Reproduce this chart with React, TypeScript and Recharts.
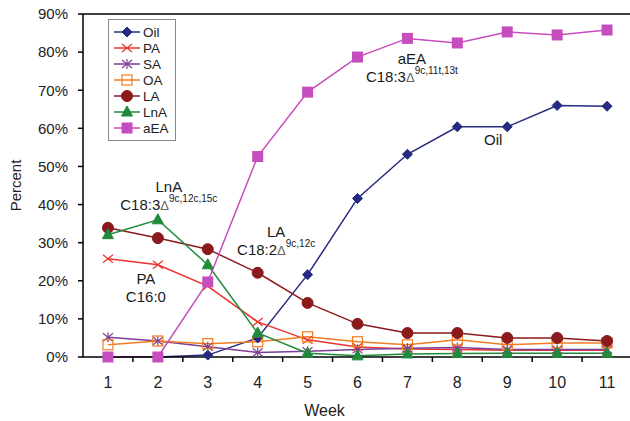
import React from "react";
import {
  LineChart,
  Line,
  XAxis,
  YAxis,
  Legend,
  Label,
  ReferenceLine,
  ReferenceDot,
} from "recharts";

const FONT = '"Liberation Sans", Arial, Helvetica, sans-serif';

// weeks on the x axis
const weeks = [1, 2, 3, 4, 5, 6, 7, 8, 9, 10, 11];
// percent values
const oil = [0, 0, 0.5, 5, 21.6, 41.6, 53.2, 60.4, 60.4, 66, 65.8];
const pa = [25.8, 24.2, 18.6, 9.2, 4.5, 2.6, 2.1, 2, 1.8, 1.8, 1.8];
const sa = [5.2, 4.2, 2.7, 1.2, 1.5, 2.0, 2.3, 2.5, 2.0, 2.0, 2.0];
const oa = [3.2, 4.2, 3.5, 4.0, 5.3, 4.0, 3.2, 4.5, 3.2, 3.7, 3.7];
const la = [33.9, 31.2, 28.3, 22.1, 14.2, 8.7, 6.3, 6.3, 5.0, 5.0, 4.2];
const lna = [32.1, 36, 24.2, 6.3, 1, 0.3, 0.8, 0.9, 1, 1, 1];
const aea = [0, 0, 19.7, 52.6, 69.5, 78.7, 83.6, 82.4, 85.3, 84.5, 85.8];

const yTicks = [0, 10, 20, 30, 40, 50, 60, 70, 80, 90];
const midTicks = weeks.map((w) => w + 0.5);

type Shape = "diamond" | "x" | "star" | "openSquare" | "circle" | "triangle" | "square";

const series: { key: string; name: string; values: number[]; color: string; shape: Shape }[] = [
  { key: "oil", name: "Oil", values: oil, color: "#262a80", shape: "diamond" },
  { key: "pa", name: "PA", values: pa, color: "#e8332e", shape: "x" },
  { key: "sa", name: "SA", values: sa, color: "#7b3f97", shape: "star" },
  { key: "oa", name: "OA", values: oa, color: "#f07d23", shape: "openSquare" },
  { key: "la", name: "LA", values: la, color: "#8a1a1c", shape: "circle" },
  { key: "lna", name: "LnA", values: lna, color: "#1f8a3b", shape: "triangle" },
  { key: "aea", name: "aEA", values: aea, color: "#c64dbd", shape: "square" },
];

const data = weeks.map((week, i) => {
  const row: Record<string, number> = { week };
  series.forEach((s) => (row[s.key] = s.values[i]));
  return row;
});

// text notes: anchored in data space (week, percent) at the baseline of the first line
const notes = [
  { week: 2.22, pct: 43.4, title: "LnA", formula: "C18:3", sup: "9c,12c,15c" },
  { week: 1.76, pct: 19.2, title: "PA", formula: "C16:0", sup: "" },
  { week: 4.37, pct: 31.6, title: "LA", formula: "C18:2", sup: "9c,12c" },
  { week: 7.09, pct: 76.8, title: "aEA", formula: "C18:3", sup: "9c,11t,13t" },
  { week: 8.72, pct: 55.5, title: "Oil", formula: "", sup: "" },
];

const marker = (shape: Shape, color: string, cx: number, cy: number, key?: string | number) => {
  switch (shape) {
    case "diamond":
      return (
        <path key={key} d={`M${cx},${cy - 5}L${cx + 5},${cy}L${cx},${cy + 5}L${cx - 5},${cy}Z`} fill={color} stroke={color} />
      );
    case "x":
      return (
        <g key={key} stroke={color} strokeWidth={1.2}>
          <line x1={cx - 5} y1={cy - 4} x2={cx + 5} y2={cy + 4} />
          <line x1={cx - 5} y1={cy + 4} x2={cx + 5} y2={cy - 4} />
        </g>
      );
    case "star":
      return (
        <g key={key} stroke={color} strokeWidth={1.2}>
          <line x1={cx - 5} y1={cy - 4} x2={cx + 5} y2={cy + 4} />
          <line x1={cx - 5} y1={cy + 4} x2={cx + 5} y2={cy - 4} />
          <line x1={cx} y1={cy - 5} x2={cx} y2={cy + 5} />
        </g>
      );
    case "openSquare":
      return <rect key={key} x={cx - 5} y={cy - 5} width={10} height={10} fill="none" stroke={color} strokeWidth={1.2} />;
    case "circle":
      return <circle key={key} cx={cx} cy={cy} r={5.5} fill={color} stroke={color} />;
    case "triangle":
      return <path key={key} d={`M${cx},${cy - 6}L${cx + 5.5},${cy + 4}L${cx - 5.5},${cy + 4}Z`} fill={color} stroke={color} />;
    case "square":
      return <rect key={key} x={cx - 5.5} y={cy - 5.5} width={11} height={11} fill={color} />;
  }
};

const dotFor = (shape: Shape, color: string) => (props: any) => {
  const { cx, cy, index } = props;
  if (cx == null || cy == null) return <g key={index} />;
  return marker(shape, color, cx, cy, index);
};

const renderLegend = () => (
  <div
    style={{
      border: "1px solid #8a8a8a",
      background: "#fff",
      padding: "4px 6px 4px 4px",
      fontFamily: FONT,
      fontSize: 13.5,
      color: "#222",
    }}
  >
    {series.map((s) => (
      <div key={s.key} style={{ display: "flex", alignItems: "center", height: 16 }}>
        <svg width={28} height={16} style={{ marginRight: 2 }}>
          <line x1={1} y1={8} x2={27} y2={8} stroke={s.color} strokeWidth={1.5} />
          {marker(s.shape, s.color, 14, 8)}
        </svg>
        <span>{s.name}</span>
      </div>
    ))}
  </div>
);

const noteShape = (n: (typeof notes)[number]) => (props: any) => {
  const { cx, cy } = props;
  return (
    <g fontFamily={FONT} fill="#1a1a1a" textAnchor="middle">
      <text x={cx} y={cy} fontSize={15}>
        {n.title}
      </text>
      {n.formula && (
        <text x={cx} y={cy + 18} fontSize={15}>
          {n.formula}
          {n.sup && (
            <>
              <tspan fontSize={13} fill="#666">
                Δ
              </tspan>
              <tspan fontSize={10} dy={-8}>
                {n.sup}
              </tspan>
            </>
          )}
        </text>
      )}
    </g>
  );
};

const emptyTick = (props: any) => <g key={props.index} />;

export default function App() {
  return (
    <div
      style={{
        position: "absolute",
        left: 0,
        top: 0,
        width: 630,
        height: 421,
        overflow: "hidden",
        background: "#fff",
      }}
    >
      <LineChart width={640} height={421} data={data} margin={{ top: 14, right: 8, bottom: 24, left: 0 }}>
        <XAxis
          xAxisId="t"
          dataKey="week"
          type="number"
          domain={[0.5, 11.5]}
          ticks={midTicks}
          tick={emptyTick}
          axisLine={{ stroke: "#000", strokeWidth: 1.5 }}
          tickLine={{ stroke: "#000", strokeWidth: 1.5 }}
          tickSize={5}
          height={1}
        />
        <XAxis
          xAxisId="w"
          dataKey="week"
          type="number"
          domain={[0.5, 11.5]}
          ticks={weeks}
          interval={0}
          tickLine={false}
          tickSize={0}
          tickMargin={19}
          height={39}
          axisLine={false}
          tick={{ fill: "#222", fontSize: 16, fontFamily: FONT }}
        >
          <Label
            content={(p: any) => {
              const vb = p.viewBox;
              return (
                <text
                  x={vb.x + vb.width / 2 - 33}
                  y={vb.y + vb.height + 19}
                  textAnchor="middle"
                  fontSize={16}
                  fontFamily={FONT}
                  fill="#222"
                >
                  Week
                </text>
              );
            }}
          />
        </XAxis>
        <YAxis
          type="number"
          domain={[0, 90]}
          ticks={yTicks}
          width={83}
          tickFormatter={(v: number) => `${v}%`}
          tickSize={5}
          tickMargin={10}
          axisLine={{ stroke: "#000", strokeWidth: 1.5 }}
          tickLine={{ stroke: "#000", strokeWidth: 1.5 }}
          tick={{ fill: "#222", fontSize: 15, fontFamily: FONT }}
        >
          <Label
            content={(p: any) => {
              const vb = p.viewBox;
              const x = vb.x + 21;
              const y = vb.y + vb.height / 2;
              return (
                <text
                  x={x}
                  y={y}
                  transform={`rotate(-90, ${x}, ${y})`}
                  textAnchor="middle"
                  fontSize={15}
                  fontFamily={FONT}
                  fill="#222"
                >
                  Percent
                </text>
              );
            }}
          />
        </YAxis>
        <ReferenceLine xAxisId="w" y={90} stroke="#000" strokeWidth={1.5} />
        {series.map((s) => (
          <Line
            key={s.key}
            xAxisId="w"
            dataKey={s.key}
            name={s.name}
            type="linear"
            stroke={s.color}
            strokeWidth={1.5}
            dot={dotFor(s.shape, s.color)}
            activeDot={false}
            isAnimationActive={false}
          />
        ))}
        {notes.map((n) => (
          <ReferenceDot
            key={n.title}
            xAxisId="w"
            x={n.week}
            y={n.pct}
            r={0}
            ifOverflow="visible"
            shape={noteShape(n)}
          />
        ))}
        <Legend
          layout="vertical"
          align="center"
          verticalAlign="middle"
          wrapperStyle={{ left: 108, top: 19, width: "auto" }}
          content={renderLegend}
        />
      </LineChart>
    </div>
  );
}
